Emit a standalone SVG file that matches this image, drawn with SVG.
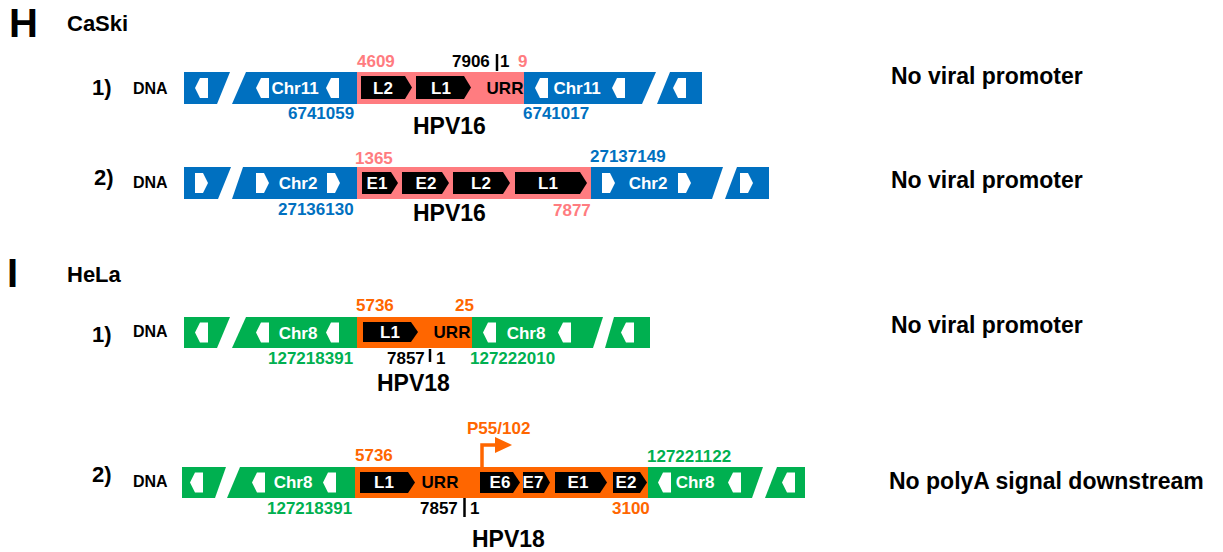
<svg xmlns="http://www.w3.org/2000/svg" xmlns:xlink="http://www.w3.org/1999/xlink" width="1223" height="552" viewBox="0 0 1223 552">
<style>
text{font-family:"Liberation Sans",Arial,sans-serif;font-weight:bold}
.blue{fill:#0070C0}.pink{fill:#FF7C80}.green{fill:#00B050}.orange{fill:#FF6600}
.gene{fill:#000}
.gl{fill:#fff;font-size:17px;text-anchor:middle}
.chr{fill:#fff;font-size:17px;text-anchor:middle}
.lab{font-size:17px}
.big{font-size:23px}
.sec{font-size:22px}
.dna{font-size:16px}
.num{font-size:22px}
.bt{fill:#000}
.note{font-size:23px}
</style>
<defs>
<polygon id="la" points="0,10 5,0 13,0 13,20 5,20" fill="#fff"/>
<polygon id="ra" points="0,0 8,0 13,10 8,20 0,20" fill="#fff"/>
</defs>

<g id="headings">
<text x="9" y="37" style="font-size:40px">H</text>
<text x="67" y="31" class="sec">CaSki</text>
<text x="7" y="287" style="font-size:40px">I</text>
<text x="67" y="282" class="sec">HeLa</text>
</g>

<!-- CaSki row 1 -->
<g id="caski1">
<text x="92" y="95" class="num">1)</text>
<text x="133" y="94" class="dna">DNA</text>
<polygon class="blue" points="184,72 230,72 217,104 184,104"/>
<polygon class="blue" points="246,72 357,72 357,104 232,104"/>
<rect class="pink" x="357" y="72" width="167" height="32"/>
<polygon class="blue" points="524,72 656,72 642,104 524,104"/>
<polygon class="blue" points="670,72 702,72 702,104 657,104"/>
<use xlink:href="#la" x="195" y="78"/><use xlink:href="#la" x="256" y="78"/><use xlink:href="#la" x="326" y="78"/>
<use xlink:href="#la" x="535" y="78"/><use xlink:href="#la" x="612" y="78"/><use xlink:href="#la" x="673" y="78"/>
<text x="295" y="94" class="chr">Chr11</text>
<text x="577" y="94" class="chr">Chr11</text>
<polygon class="gene" points="361,76 405,76 412,87.5 405,99 361,99"/>
<polygon class="gene" points="416,76 464,76 471,87.5 464,99 416,99"/>
<text x="383" y="94" class="gl">L2</text>
<text x="441" y="94" class="gl">L1</text>
<text x="505" y="94" class="lab bt" text-anchor="middle">URR</text>
<text x="357" y="67" class="lab pink">4609</text>
<text x="452" y="67" class="lab bt">7906</text>
<line x1="497" y1="54" x2="497" y2="71" stroke="#000" stroke-width="2.5"/>
<text x="500" y="67" class="lab bt">1</text>
<text x="518" y="67" class="lab pink">9</text>
<text x="288" y="119" class="lab blue">6741059</text>
<text x="523" y="119" class="lab blue">6741017</text>
<text x="413" y="134" class="big">HPV16</text>
<text x="891" y="84" class="note">No viral promoter</text>
</g>

<!-- CaSki row 2 -->
<g id="caski2">
<text x="94" y="185" class="num">2)</text>
<text x="133" y="188" class="dna">DNA</text>
<polygon class="blue" points="184,167 231,167 218,199 184,199"/>
<polygon class="blue" points="243,167 357,167 357,199 232,199"/>
<rect class="pink" x="357" y="167" width="234" height="32"/>
<polygon class="blue" points="591,167 723,167 712,199 591,199"/>
<polygon class="blue" points="737,167 769,167 769,199 725,199"/>
<use xlink:href="#ra" x="195" y="173"/><use xlink:href="#ra" x="256" y="173"/><use xlink:href="#ra" x="327" y="173"/>
<use xlink:href="#ra" x="602" y="173"/><use xlink:href="#ra" x="678" y="173"/><use xlink:href="#ra" x="740" y="173"/>
<text x="298" y="189" class="chr">Chr2</text>
<text x="648" y="189" class="chr">Chr2</text>
<polygon class="gene" points="362,172 391,172 398,183 391,194 362,194"/>
<polygon class="gene" points="402,172 442,172 449,183 442,194 402,194"/>
<polygon class="gene" points="453,172 503,172 510,183 503,194 453,194"/>
<polygon class="gene" points="515,172 580,172 587,183 580,194 515,194"/>
<text x="377" y="189" class="gl">E1</text>
<text x="426" y="189" class="gl">E2</text>
<text x="481" y="189" class="gl">L2</text>
<text x="548" y="189" class="gl">L1</text>
<text x="355" y="164" class="lab pink">1365</text>
<text x="590" y="162" class="lab blue">27137149</text>
<text x="278" y="215" class="lab blue">27136130</text>
<text x="413" y="221" class="big">HPV16</text>
<text x="553" y="216" class="lab pink">7877</text>
<text x="891" y="188" class="note">No viral promoter</text>
</g>

<!-- HeLa row 1 -->
<g id="hela1">
<text x="92" y="342" class="num">1)</text>
<text x="133" y="337" class="dna">DNA</text>
<polygon class="green" points="184,317 230,317 217,348 184,348"/>
<polygon class="green" points="246,317 357,317 357,348 232,348"/>
<rect class="orange" x="357" y="317" width="115" height="31"/>
<polygon class="green" points="472,317 603,317 593,348 472,348"/>
<polygon class="green" points="614,317 650,317 650,348 605,348"/>
<use xlink:href="#la" x="195" y="322.5"/><use xlink:href="#la" x="256" y="322.5"/><use xlink:href="#la" x="326" y="322.5"/>
<use xlink:href="#la" x="483" y="322.5"/><use xlink:href="#la" x="558" y="322.5"/><use xlink:href="#la" x="621" y="322.5"/>
<text x="298" y="339" class="chr">Chr8</text>
<text x="526" y="339" class="chr">Chr8</text>
<polygon class="gene" points="363,322 411,322 418,332 411,342 363,342"/>
<text x="390" y="338" class="gl">L1</text>
<text x="452" y="338" class="lab bt" text-anchor="middle">URR</text>
<text x="356" y="311" class="lab orange">5736</text>
<text x="455" y="311" class="lab orange">25</text>
<text x="268" y="364" class="lab green">127218391</text>
<text x="387" y="364" class="lab bt">7857</text>
<line x1="430" y1="349" x2="430" y2="362" stroke="#000" stroke-width="2.5"/>
<text x="436" y="364" class="lab bt">1</text>
<text x="470" y="364" class="lab green">127222010</text>
<text x="377" y="391" class="big">HPV18</text>
<text x="891" y="333" class="note">No viral promoter</text>
</g>

<!-- HeLa row 2 -->
<g id="hela2">
<text x="92" y="482" class="num">2)</text>
<text x="133" y="487" class="dna">DNA</text>
<polygon class="green" points="182,467 226,467 215,498 182,498"/>
<polygon class="green" points="240,467 355,467 355,498 227,498"/>
<rect class="orange" x="355" y="467" width="293" height="31"/>
<polygon class="green" points="648,467 763,467 752,498 648,498"/>
<polygon class="green" points="777,467 805,467 805,498 765,498"/>
<use xlink:href="#la" x="190" y="472.5"/><use xlink:href="#la" x="252" y="472.5"/><use xlink:href="#la" x="323" y="472.5"/>
<use xlink:href="#la" x="658" y="472.5"/><use xlink:href="#la" x="728" y="472.5"/><use xlink:href="#la" x="782" y="472.5"/>
<text x="293" y="488" class="chr">Chr8</text>
<text x="695" y="488" class="chr">Chr8</text>
<polygon class="gene" points="360,472 408,472 415,482.5 408,493 360,493"/>
<polygon class="gene" points="480,472 513,472 520,482.5 513,493 480,493"/>
<polygon class="gene" points="523,472 544,472 550,482.5 544,493 523,493"/>
<polygon class="gene" points="555,472 600,472 607,482.5 600,493 555,493"/>
<polygon class="gene" points="613,472 640,472 647,482.5 640,493 613,493"/>
<text x="384" y="488" class="gl">L1</text>
<text x="500" y="488" class="gl">E6</text>
<text x="533" y="488" class="gl">E7</text>
<text x="578" y="488" class="gl">E1</text>
<text x="626" y="488" class="gl">E2</text>
<text x="440" y="488" class="lab bt" text-anchor="middle">URR</text>
<text x="467" y="434" class="lab orange">P55/102</text>
<text x="355" y="461" class="lab orange">5736</text>
<text x="647" y="462" class="lab green">127221122</text>
<text x="267" y="514" class="lab green">127218391</text>
<text x="420" y="514" class="lab bt">7857</text>
<line x1="464.5" y1="498" x2="464.5" y2="517" stroke="#000" stroke-width="2.5"/>
<text x="470" y="514" class="lab bt">1</text>
<text x="612" y="514" class="lab orange">3100</text>
<text x="472" y="547" class="big">HPV18</text>
<text x="889" y="489" class="note">No polyA signal downstream</text>
</g>

<g id="connectors">
<path d="M482,467 V445 H497" fill="none" stroke="#FF6600" stroke-width="3.5"/>
<polygon points="495,437 512,445 495,453" fill="#FF6600"/>
</g>
</svg>
